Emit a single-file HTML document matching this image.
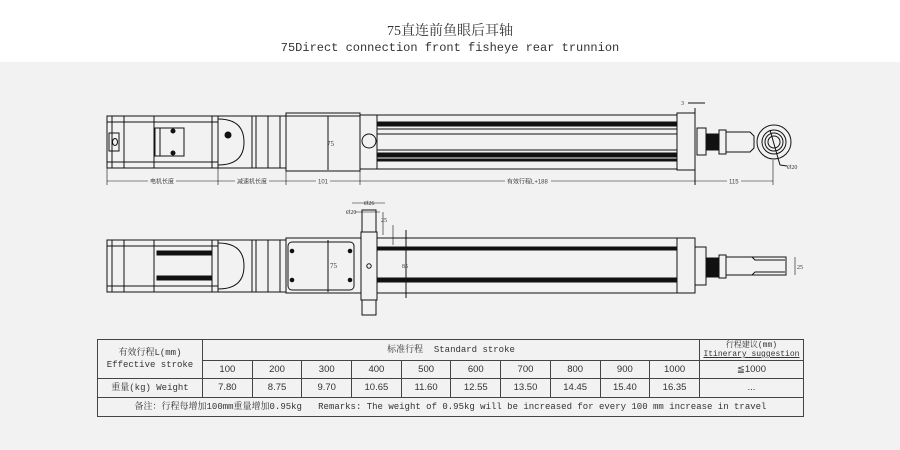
<!DOCTYPE html>
<html><head><meta charset="utf-8"><style>
body{margin:0;width:900px;height:450px;overflow:hidden;background:#fff;font-family:"Liberation Serif","Noto Serif CJK SC",serif}
.t1{position:absolute;top:20px;width:900px;text-align:center;font-size:14px;color:#333;font-family:"Liberation Serif","Noto Serif CJK SC",serif}
.t2{position:absolute;top:41px;width:900px;text-align:center;font-size:12px;color:#333;font-family:"Liberation Mono","Noto Serif CJK SC",monospace}
.bg{position:absolute;top:62px;left:0;width:900px;height:388px;background:#f2f2f2}
svg{position:absolute;left:0;top:0}
table{position:absolute;left:97px;top:339px;width:706px;border-collapse:collapse;table-layout:fixed;font-size:9.5px;color:#333}
td{border:1px solid #444;text-align:center;padding:0;height:17px;line-height:10px;white-space:nowrap;overflow:hidden;font-family:"Liberation Sans",sans-serif}
.m{font-family:"Liberation Mono","Noto Serif CJK SC",monospace;font-size:9px}
</style></head><body>
<div class="t1">75直连前鱼眼后耳轴</div>
<div class="t2">75Direct connection front fisheye rear trunnion</div>
<div class="bg"></div>
<svg width="900" height="450" viewBox="0 0 900 450" fill="none" stroke="#111" stroke-width="1">
<!-- TOP VIEW -->
<rect x="107" y="116" width="111" height="52"/>
<line x1="112" y1="116" x2="112" y2="168"/><line x1="124" y1="116" x2="124" y2="168"/>
<line x1="154" y1="116" x2="154" y2="168"/><line x1="212" y1="116" x2="212" y2="168"/>
<line x1="107" y1="122" x2="218" y2="122"/><line x1="107" y1="162" x2="218" y2="162"/>
<rect x="109" y="133" width="10" height="18"/><ellipse cx="115" cy="142" rx="2.5" ry="3.5"/>
<path d="M155 128h29v28h-29z M160 128v28"/>
<circle cx="173" cy="131" r="2" fill="#111"/><circle cx="173" cy="153" r="2" fill="#111"/>
<rect x="218" y="116" width="68" height="52"/>
<path d="M218 119 q26 0 26 23 q0 23 -26 23"/>
<circle cx="228" cy="135" r="3" fill="#111"/>
<line x1="252" y1="116" x2="252" y2="168"/><line x1="256" y1="116" x2="256" y2="168"/>
<line x1="268" y1="116" x2="268" y2="168"/><line x1="280" y1="116" x2="280" y2="168"/>
<rect x="286" y="113" width="74" height="58"/><line x1="286" y1="116" x2="360" y2="116"/>
<line x1="328" y1="116" x2="328" y2="170"/>
<text x="327" y="146" font-size="7" fill="#333" stroke="none">75</text>
<circle cx="369" cy="141" r="7"/>
<rect x="360" y="115" width="317" height="54"/>
<rect x="377" y="122" width="300" height="4" fill="#111"/><line x1="377" y1="129" x2="677" y2="129"/>
<line x1="377" y1="134" x2="677" y2="134"/><line x1="377" y1="150" x2="677" y2="150"/>
<rect x="377" y="153" width="300" height="4" fill="#111"/><rect x="377" y="159" width="300" height="2" fill="#111"/>
<line x1="377" y1="115" x2="377" y2="169"/>
<rect x="677" y="113" width="18" height="57"/><line x1="695" y1="108" x2="695" y2="185"/>
<rect x="697" y="128" width="9" height="27"/>
<rect x="706" y="134" width="13" height="16" fill="#111"/>
<rect x="719" y="130" width="7" height="24"/>
<path d="M726 132h24l4 4v12l-4 4h-24z"/>
<circle cx="774" cy="142" r="17"/><circle cx="774" cy="142" r="12"/><circle cx="774" cy="142" r="9"/><circle cx="774" cy="142" r="6"/>
<line x1="770" y1="130" x2="780" y2="165"/><line x1="780" y1="165" x2="787" y2="166"/>
<text x="787" y="169" font-size="6" fill="#333" stroke="none">Ø20</text>
<line x1="688" y1="103" x2="705" y2="103"/><text x="681" y="105" font-size="6" fill="#333" stroke="none">3</text>
<line x1="107" y1="181" x2="773" y2="181" stroke-width="0.6"/>
<g stroke-width="0.6"><line x1="107" y1="168" x2="107" y2="185"/><line x1="218" y1="168" x2="218" y2="185"/><line x1="286" y1="170" x2="286" y2="185"/><line x1="360" y1="170" x2="360" y2="185"/><line x1="773" y1="160" x2="773" y2="185"/></g>
<g font-size="6" fill="#444" stroke="none" font-family="Liberation Sans, Noto Sans CJK SC, sans-serif">
<rect x="148" y="177" width="28" height="8" fill="#f2f2f2"/><text x="150" y="183.5">电机长度</text>
<rect x="235" y="177" width="34" height="8" fill="#f2f2f2"/><text x="237" y="183.5">减速机长度</text>
<rect x="316" y="177" width="14" height="8" fill="#f2f2f2"/><text x="318" y="183.5">101</text>
<rect x="505" y="177" width="46" height="8" fill="#f2f2f2"/><text x="507" y="183.5">有效行程L+188</text>
<rect x="727" y="177" width="14" height="8" fill="#f2f2f2"/><text x="729" y="183.5">115</text>
</g>
<!-- BOTTOM VIEW -->
<rect x="107" y="240" width="111" height="52"/>
<line x1="112" y1="240" x2="112" y2="292"/><line x1="124" y1="240" x2="124" y2="292"/>
<line x1="154" y1="240" x2="154" y2="292"/><line x1="212" y1="240" x2="212" y2="292"/>
<line x1="107" y1="246" x2="218" y2="246"/><line x1="107" y1="286" x2="218" y2="286"/>
<rect x="157" y="251" width="55" height="4" fill="#111"/><rect x="157" y="276" width="55" height="4" fill="#111"/>
<rect x="218" y="240" width="68" height="52"/>
<path d="M218 243 q26 0 26 23 q0 23 -26 23"/>
<line x1="252" y1="240" x2="252" y2="292"/><line x1="256" y1="240" x2="256" y2="292"/>
<line x1="268" y1="240" x2="268" y2="292"/><line x1="280" y1="240" x2="280" y2="292"/>
<rect x="286" y="238" width="75" height="55"/>
<rect x="288" y="242" width="66" height="48" rx="4"/>
<line x1="328" y1="240" x2="328" y2="292"/>
<circle cx="292" cy="251" r="1.8" fill="#111"/><circle cx="350" cy="251" r="1.8" fill="#111"/>
<circle cx="292" cy="280" r="1.8" fill="#111"/><circle cx="350" cy="280" r="1.8" fill="#111"/>
<text x="330" y="268" font-size="7" fill="#333" stroke="none">75</text>
<rect x="361" y="232" width="16" height="68"/><rect x="362" y="210" width="14" height="22"/><rect x="362" y="300" width="14" height="15"/>
<circle cx="369" cy="266" r="2.2"/>
<rect x="377" y="238" width="300" height="55"/>
<rect x="377" y="247" width="300" height="3" fill="#111"/><rect x="377" y="278" width="300" height="4" fill="#111"/>
<line x1="406" y1="230" x2="406" y2="298"/>
<text x="402" y="268" font-size="6" fill="#333" stroke="none">85</text>
<g stroke-width="0.6"><line x1="352" y1="203" x2="385" y2="203"/><line x1="355" y1="212" x2="380" y2="212"/><line x1="383" y1="212" x2="383" y2="235"/><line x1="393" y1="225" x2="393" y2="245"/></g>
<g font-size="6" fill="#333" stroke="none"><text x="364" y="205">Ø26</text><text x="346" y="214">Ø20</text><text x="381" y="222">25</text></g>
<rect x="677" y="238" width="18" height="55"/>
<rect x="695" y="247" width="11" height="38"/>
<rect x="706" y="258" width="13" height="19" fill="#111"/>
<rect x="719" y="255" width="7" height="23"/>
<path d="M726 257h60v18h-60z M752 257l3 3h30 M752 275l3 -3h30"/>
<line x1="795" y1="257" x2="795" y2="275" stroke-width="0.6"/><text x="797" y="269" font-size="6" fill="#333" stroke="none">25</text>
</svg>
<table>
<colgroup><col style="width:105px"><col span="10" style="width:49.7px"><col style="width:104px"></colgroup>
<tr><td rowspan="2" class="m" style="line-height:12px">有效行程L(mm)<br>Effective stroke</td><td colspan="10" class="m" style="height:20px">标准行程&nbsp; Standard stroke</td><td class="m" style="line-height:9px;font-size:8px;height:20px">行程建议(mm)<br><u>Itinerary suggestion</u></td></tr>
<tr><td style="height:15px">100</td><td>200</td><td>300</td><td>400</td><td>500</td><td>600</td><td>700</td><td>800</td><td>900</td><td>1000</td><td>≦1000</td></tr>
<tr><td class="m" style="height:18px">重量(kg) Weight</td><td>7.80</td><td>8.75</td><td>9.70</td><td>10.65</td><td>11.60</td><td>12.55</td><td>13.50</td><td>14.45</td><td>15.40</td><td>16.35</td><td>...</td></tr>
<tr><td colspan="12" class="m" style="height:18px">备注：行程每增加100mm重量增加0.95kg &nbsp; Remarks: The weight of 0.95kg will be increased for every 100 mm increase in travel</td></tr>
</table>
</body></html>
